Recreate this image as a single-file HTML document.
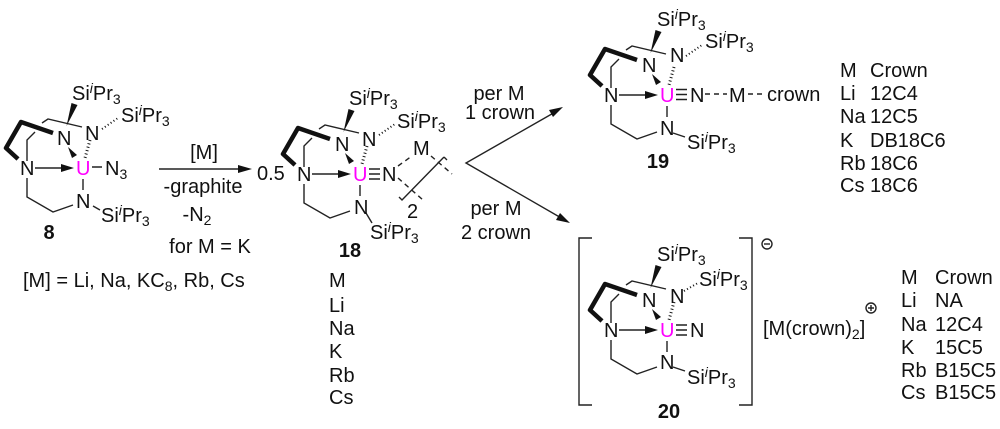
<!DOCTYPE html>
<html><head><meta charset="utf-8"><style>
html,body{margin:0;padding:0;background:#fff}
svg{display:block}
text{font-family:"Liberation Sans",sans-serif;font-size:20px;fill:#111}
.b{font-weight:bold;text-anchor:middle}
.m{text-anchor:middle}
.u{fill:#f0f}
.l{fill:none;stroke:#222;stroke-width:1.4}
.h{fill:none;stroke:#111;stroke-width:4.5;stroke-linejoin:round}
.ds{fill:none;stroke:#222;stroke-width:1.4;stroke-dasharray:5 4}
.hs{fill:none;stroke:#111;stroke-width:4;stroke-dasharray:1 2.5}
.s{font-size:14px}
</style></head><body>
<svg width="1000" height="429" viewBox="0 0 1000 429" xmlns="http://www.w3.org/2000/svg">
<defs>
<g id="sk">
<path class="h" d="M53 133L21 122L6 148L18 159"/>
<path class="l" d="M82 127L48 119L42 123M35 132L27 140V161M73 205L53 212L27 197V178M83 179V190"/>
<path d="M66.500 126L71.500 103L77.500 105Z" fill="#111"/>
<path d="M68 147L77 155L72 158Z" fill="#111"/>
<path class="l" d="M35 168H66"/>
<path d="M74 168L61 164V172Z" fill="#111"/>
</g>
</defs>

<!-- 8 -->
<use href="#sk"/>
<path class="hs" style="stroke-width:3" d="M90 140L85 158"/>
<path class="hs" style="stroke-width:2" d="M102 129L118 118"/>
<path class="l" d="M92 167H102M93 206L100 210"/>
<text x="72" y="100">Si<tspan class="s" dy="-7" font-style="italic">i</tspan><tspan dy="7">Pr</tspan><tspan class="s" dy="4">3</tspan></text>
<text x="121" y="122">Si<tspan class="s" dy="-7" font-style="italic">i</tspan><tspan dy="7">Pr</tspan><tspan class="s" dy="4">3</tspan></text>
<text x="57" y="145">N</text><text x="85" y="140">N</text>
<text x="20" y="175">N</text>
<text class="u" x="76" y="175">U</text>
<text x="105" y="175">N<tspan class="s" dy="4">3</tspan></text>
<text x="76" y="208">N</text>
<text x="101" y="222">Si<tspan class="s" dy="-7" font-style="italic">i</tspan><tspan dy="7">Pr</tspan><tspan class="s" dy="4">3</tspan></text>
<text class="b" x="49" y="239">8</text>
<text x="23" y="287">[M] = Li, Na, KC<tspan class="s" dy="4">8</tspan><tspan dy="-4">, Rb, Cs</tspan></text>

<!-- arrow 1 -->
<path class="l" d="M159 169H243"/><path d="M252 169L238 165V173Z" fill="#111"/>
<text class="m" x="204" y="159">[M]</text>
<text class="m" x="203" y="193">-graphite</text>
<text class="m" x="197" y="221">-N<tspan class="s" dy="4">2</tspan></text>
<text class="m" x="210" y="253">for M = K</text>
<text x="257" y="180">0.5</text>

<!-- 18 -->
<use href="#sk" transform="translate(277 6)"/>
<path class="hs" style="stroke-width:3" d="M367 146L362 164"/>
<path class="hs" style="stroke-width:2" d="M379 135L395 124"/>
<path class="l" d="M369 169H380M369 174H380M369 179H380M366 213L372 223"/>
<text x="349" y="105">Si<tspan class="s" dy="-7" font-style="italic">i</tspan><tspan dy="7">Pr</tspan><tspan class="s" dy="4">3</tspan></text>
<text x="397" y="128">Si<tspan class="s" dy="-7" font-style="italic">i</tspan><tspan dy="7">Pr</tspan><tspan class="s" dy="4">3</tspan></text>
<text x="335" y="151">N</text><text x="362" y="146">N</text>
<text x="297" y="181">N</text>
<text class="u" x="353" y="181">U</text>
<text x="382" y="181">N</text>
<text x="354" y="214">N</text>
<text x="370" y="239">Si<tspan class="s" dy="-7" font-style="italic">i</tspan><tspan dy="7">Pr</tspan><tspan class="s" dy="4">3</tspan></text>
<text class="b" x="350" y="257">18</text>
<text x="413" y="155">M</text>
<text x="407" y="218">2</text>
<path class="ds" d="M398 166L412 156M431 156L452 174M398 178L423 200"/>
<path class="l" d="M444 157L402 200L399 197M444 157L447 160"/>
<text x="329" y="287">M</text><text x="329" y="312">Li</text><text x="329" y="335">Na</text><text x="329" y="358">K</text><text x="329" y="382">Rb</text><text x="329" y="404">Cs</text>

<!-- branch -->
<path class="l" d="M557 111L466 163L563 219"/>
<path d="M563 107L549 110L553 117Z" fill="#111"/>
<path d="M570 223L556 220L560 213Z" fill="#111"/>
<text class="m" x="499" y="100">per M</text>
<text class="m" x="500" y="119">1 crown</text>
<text class="m" x="496" y="215">per M</text>
<text class="m" x="496" y="239">2 crown</text>

<!-- 19 -->
<use href="#sk" transform="translate(584 -73)"/>
<path class="hs" style="stroke-width:3" d="M674 67L669 85"/>
<path class="hs" style="stroke-width:2" d="M686 56L702 45"/>
<path class="l" d="M676 89.500H687M676 94.500H687M676 99.500H687M673 133L685 137"/>
<text x="657" y="26">Si<tspan class="s" dy="-7" font-style="italic">i</tspan><tspan dy="7">Pr</tspan><tspan class="s" dy="4">3</tspan></text>
<text x="705" y="48">Si<tspan class="s" dy="-7" font-style="italic">i</tspan><tspan dy="7">Pr</tspan><tspan class="s" dy="4">3</tspan></text>
<text x="642" y="72">N</text><text x="670" y="62">N</text>
<text x="604" y="102">N</text>
<text class="u" x="660" y="102">U</text>
<text x="690" y="102">N</text>
<text x="660" y="135">N</text>
<text x="687" y="149">Si<tspan class="s" dy="-7" font-style="italic">i</tspan><tspan dy="7">Pr</tspan><tspan class="s" dy="4">3</tspan></text>
<text class="b" x="658" y="168">19</text>
<path class="ds" d="M705 94H727M748 94H765"/>
<text x="729" y="102">M</text>
<text x="767" y="101">crown</text>
<text x="840" y="77">M</text><text x="840" y="100">Li</text><text x="840" y="123">Na</text><text x="840" y="147">K</text><text x="840" y="170">Rb</text><text x="840" y="192">Cs</text>
<text x="870" y="77">Crown</text><text x="870" y="100">12C4</text><text x="870" y="123">12C5</text><text x="870" y="147">DB18C6</text><text x="870" y="170">18C6</text><text x="870" y="192">18C6</text>

<!-- 20 -->
<use href="#sk" transform="translate(584 162)"/>
<path class="hs" style="stroke-width:3" d="M674 302L669 320"/>
<path class="hs" style="stroke-width:2" d="M684 291L698 283"/>
<path class="l" d="M676 325H687M676 330H687M676 335H687M673 367L685 371"/>
<path class="l" d="M592 238H579V405H592M739 238H752V405H739"/>
<text x="657" y="261">Si<tspan class="s" dy="-7" font-style="italic">i</tspan><tspan dy="7">Pr</tspan><tspan class="s" dy="4">3</tspan></text>
<text x="699" y="286">Si<tspan class="s" dy="-7" font-style="italic">i</tspan><tspan dy="7">Pr</tspan><tspan class="s" dy="4">3</tspan></text>
<text x="642" y="307">N</text><text x="670" y="303">N</text>
<text x="604" y="337">N</text>
<text class="u" x="660" y="337">U</text>
<text x="690" y="337">N</text>
<text x="660" y="369">N</text>
<text x="687" y="384">Si<tspan class="s" dy="-7" font-style="italic">i</tspan><tspan dy="7">Pr</tspan><tspan class="s" dy="4">3</tspan></text>
<text class="b" x="669" y="418">20</text>
<circle class="l" cx="767" cy="244" r="5"/><path class="l" d="M764 244H770"/>
<text x="763" y="335">[M(crown)<tspan class="s" dy="4">2</tspan><tspan dy="-4">]</tspan></text>
<circle class="l" cx="871" cy="308" r="5"/><path class="l" d="M868 308H874M871 305V311"/>
<text x="901" y="284">M</text><text x="901" y="307">Li</text><text x="901" y="331">Na</text><text x="901" y="354">K</text><text x="901" y="377">Rb</text><text x="901" y="399">Cs</text>
<text x="935" y="284">Crown</text><text x="935" y="307">NA</text><text x="935" y="331">12C4</text><text x="935" y="354">15C5</text><text x="935" y="377">B15C5</text><text x="935" y="399">B15C5</text>
</svg>
</body></html>
